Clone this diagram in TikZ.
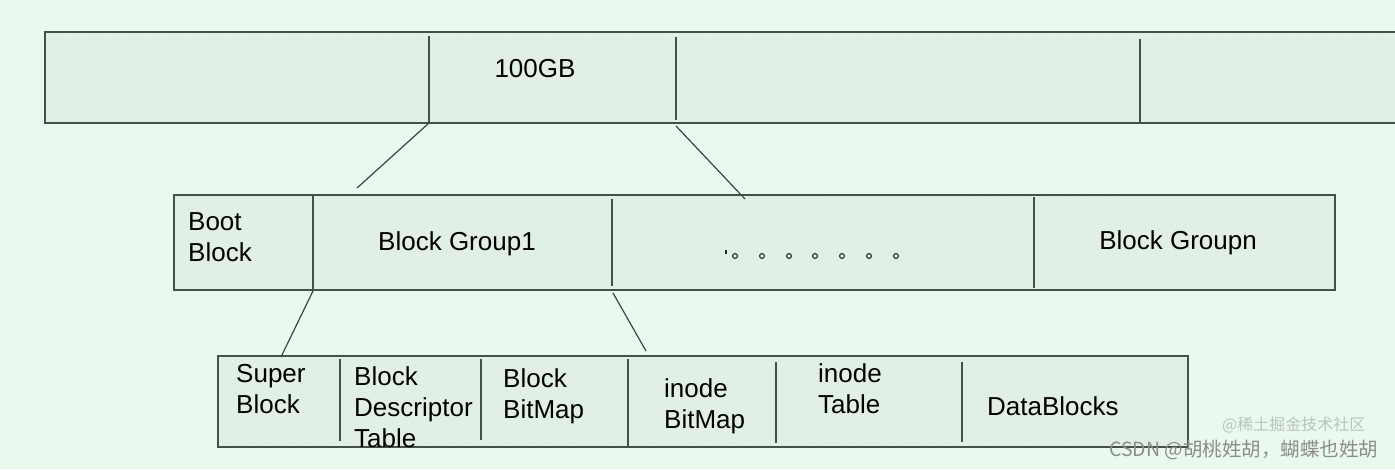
\documentclass[tikz,border=0pt]{standalone}
\usepackage{fontspec}
\setmainfont{Liberation Sans}
\newfontfamily\cjk{Noto Sans CJK SC}
\usetikzlibrary{patterns.meta}
\definecolor{bg}{RGB}{234,249,237}
\definecolor{boxfill}{RGB}{224,239,228}
\definecolor{edge}{RGB}{70,80,74}
\definecolor{wm}{RGB}{140,140,140}
\begin{document}
\begin{tikzpicture}[x=1pt,y=-1pt,
  barfill/.style={fill=boxfill},
  hatch/.style={pattern={Lines[angle=58,distance=4pt,line width=0.45pt]}, pattern color=white!70!boxfill},
  bar/.style={draw=edge, line width=1.5pt},
  divider/.style={draw=edge, line width=1.3pt},
  link/.style={draw=edge!85!black, line width=1.2pt},
  lbl/.style={font=\fontsize{26}{31}\selectfont, text=black, inner sep=0pt, align=left},
  dot/.style={draw=black!85, line width=1.1pt},
  wmark/.style={font=\cjk\fontsize{19.5}{21}\selectfont, text=wm, inner sep=0pt}
]
\fill[bg] (0,0) rectangle (1395,469);
\useasboundingbox (0,0) rectangle (1395,469);

% ---------- top bar ----------
\coordinate (T-nw) at (45,32);
\coordinate (T-se) at (1400,123);
\fill[barfill] (T-nw) rectangle (T-se);
\fill[hatch] (T-nw) rectangle (T-se);
\draw[bar] (1400,32) -- (T-nw) -- (45,123) -- (T-se);
\coordinate (T-d1t) at (429,36);  \coordinate (T-d1b) at (429,123);
\coordinate (T-d2t) at (676,37);  \coordinate (T-d2b) at (676,120);
\coordinate (T-d3t) at (1140,39); \coordinate (T-d3b) at (1140,124);
\draw[divider] (T-d1t) -- (T-d1b);
\draw[divider] (T-d2t) -- (T-d2b);
\draw[divider] (T-d3t) -- (T-d3b);
\node[lbl] (t100) at (535,69) {100GB};

% ---------- middle bar ----------
\coordinate (M-nw) at (174,195);
\coordinate (M-se) at (1335,290);
\fill[barfill] (M-nw) rectangle (M-se);
\fill[hatch] (M-nw) rectangle (M-se);
\draw[bar] (M-nw) rectangle (M-se);
\coordinate (M-d1t) at (313,196); \coordinate (M-d1b) at (313,291);
\coordinate (M-d2t) at (612,199); \coordinate (M-d2b) at (612,286);
\coordinate (M-d3t) at (1034,197); \coordinate (M-d3b) at (1034,288);
\draw[divider] (M-d1t) -- (M-d1b);
\draw[divider] (M-d2t) -- (M-d2b);
\draw[divider] (M-d3t) -- (M-d3b);
\node[lbl, anchor=west] (boot) at (188,237.5) {Boot\\Block};
\node[lbl] (bg1) at (457,244) {Block Group1};
\node[lbl] (bgn) at (1178,243) {Block Groupn};
\draw[dot] (726,250) -- (726,254);
\foreach \xx in {735,762,789,815,842,869,896}
  \draw[dot] (\xx,256) circle (2.4);

% ---------- bottom bar ----------
\coordinate (B-nw) at (218,356);
\coordinate (B-se) at (1188,447);
\fill[barfill] (B-nw) rectangle (B-se);
\fill[hatch] (B-nw) rectangle (B-se);
\draw[bar] (B-nw) rectangle (B-se);
\foreach \xx/\ya/\yb in {340/359/441, 481/359/440, 628/359/446, 776/362/443, 962/362/442}
  \draw[divider] (\xx,\ya) -- (\xx,\yb);
\node[lbl, anchor=west] (super) at (236,389.5) {Super\\Block};
\node[lbl, anchor=west] (bdt) at (354,407.5) {Block\\Descriptor\\Table};
\node[lbl, anchor=west] (bbm) at (503,396) {Block\\BitMap};
\node[lbl, anchor=west] (ibm) at (664,406.5) {inode\\BitMap};
\node[lbl, anchor=west] (itab) at (818,389) {inode\\Table};
\node[lbl, anchor=west] (data) at (987,406) {DataBlocks};

% ---------- connectors ----------
\coordinate (L1e) at (357,188);
\coordinate (L2s) at (676,126);
\coordinate (L2e) at (745,199);
\coordinate (L3e) at (281,357);
\coordinate (L4s) at (613,293);
\coordinate (L4e) at (646,351);
\draw[link] (T-d1b) -- (L1e);
\draw[link] (L2s) -- (L2e);
\draw[link] (M-d1b) -- (L3e);
\draw[link] (L4s) -- (L4e);

% ---------- watermark ----------
\node[wmark, anchor=west, opacity=0.5, font=\cjk\fontsize{16}{18}\selectfont] (wm2) at (1222,425) {@稀土掘金技术社区};
\node[wmark, anchor=west] (wm1) at (1109,450) {CSDN @胡桃姓胡，蝴蝶也姓胡};
\end{tikzpicture}
\end{document}
